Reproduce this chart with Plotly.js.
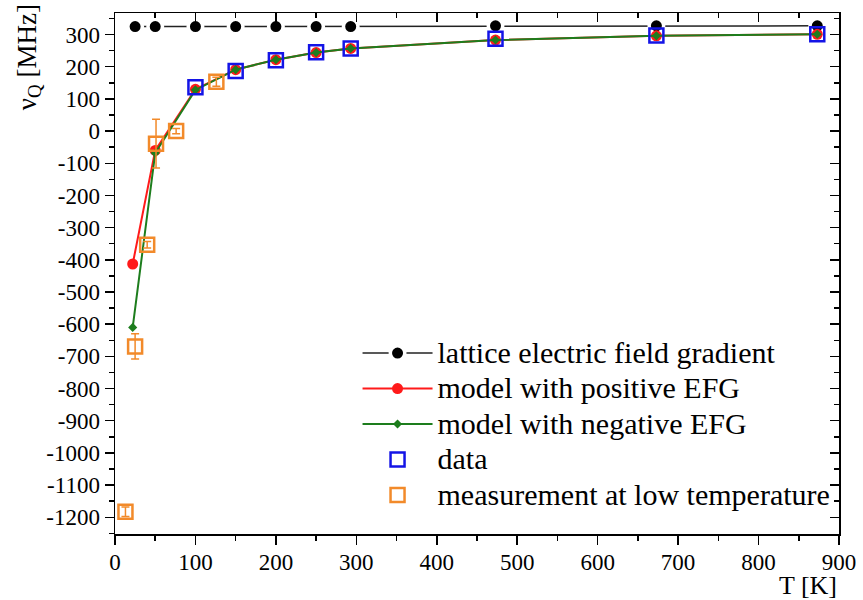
<!DOCTYPE html>
<html>
<head>
<meta charset="utf-8">
<script src="https://cdn.plot.ly/plotly-3.0.1.min.js"></script>
<style>html,body{margin:0;padding:0;background:#fff;}#chart{width:863px;height:600px;}</style>
</head>
<body>
<div id="chart"></div>
<script>
// ---- data ----
const latticeT = [25, 50, 100, 150, 200, 250, 293, 473, 673, 873];
const latticeV = [325, 325, 325, 325, 325, 325, 325, 327, 327, 327];

const modelT = [22, 50, 100, 150, 200, 250, 293, 473, 673, 873];
const positiveV = [-413, -60, 130, 191, 222, 244, 257, 283, 296, 301];
const negativeV = [-610, -68, 128, 191, 222, 244, 257, 283, 296, 301];

const dataT = [100, 150, 200, 250, 293, 473, 673, 873];
const dataV = [136, 187, 220, 245, 257, 287, 297, 301];

const lowT = [13, 25, 40, 51, 76, 126];
const lowV = [-1183, -669, -353, -39, 0, 153];
const lowErr = [15, 39, 10, 76, 8, 14];

const legendNames = [
  'lattice electric field gradient',
  'model with positive EFG',
  'model with negative EFG',
  'data',
  'measurement at low temperature'
];

const xTickVals = [0, 100, 200, 300, 400, 500, 600, 700, 800, 900];
const yTickVals = [300, 200, 100, 0, -100, -200, -300, -400, -500, -600, -700, -800, -900, -1000, -1100, -1200];

// ---- style ----
const serif = 'Liberation Serif, Times New Roman, serif';
const cBlack = '#000000', cRed = '#ff1a1a', cGreen = '#1d7d1d', cBlue = '#1414e6', cOrange = '#f28a2a';
const legName = s => '<span style="font-size:30px">' + s + '</span>';

const traces = [
  {x: latticeT, y: latticeV, name: legName(legendNames[0]), mode: 'lines+markers',
   line: {color: '#222', width: 1.5},
   marker: {symbol: 'circle', size: 14.5, color: cBlack, line: {color: '#fff', width: 3.5}}},
  {x: modelT, y: positiveV, name: legName(legendNames[1]), mode: 'lines+markers',
   line: {color: cRed, width: 2},
   marker: {symbol: 'circle', size: 11, color: cRed}},
  {x: modelT, y: negativeV, name: legName(legendNames[2]), mode: 'lines+markers',
   line: {color: cGreen, width: 2},
   marker: {symbol: 'diamond', size: 7, color: cGreen}},
  {x: dataT, y: dataV, name: legName(legendNames[3]), mode: 'markers',
   marker: {symbol: 'square-open', size: 14, color: cBlue, line: {color: cBlue, width: 2.5}}},
  {x: lowT, y: lowV, name: legName(legendNames[4]), mode: 'markers',
   error_y: {type: 'data', array: lowErr, visible: true, color: cOrange, thickness: 1.5, width: 4},
   marker: {symbol: 'square-open', size: 14, color: cOrange, line: {color: cOrange, width: 2.5}}},
  // invisible helper so the mirrored inner-tick axes are drawn
  {x: [null], y: [null], xaxis: 'x2', yaxis: 'y2', showlegend: false, hoverinfo: 'skip', mode: 'markers'}
];

const xr = [0, 900], yr = [-1252, 367];

const layout = {
  width: 863, height: 600,
  margin: {l: 115, r: 24, t: 13, b: 66},
  paper_bgcolor: '#fff', plot_bgcolor: '#fff',
  font: {family: serif, color: '#000', size: 23},
  showlegend: true,
  legend: {x: 0.335, y: 0.391, xanchor: 'left', yanchor: 'top', bgcolor: 'rgba(0,0,0,0)',
           font: {family: serif, size: 25, color: '#000'}, itemwidth: 70, tracegroupgap: 0},
  xaxis: {range: xr, tickvals: xTickVals, ticktext: xTickVals.map(String), ticks: 'outside', ticklen: 9, tickwidth: 1.5,
          tickcolor: '#000', showline: true, linecolor: '#000', linewidth: 1.5, mirror: true, ticklabelstandoff: -2,
          showgrid: false, zeroline: false, tickfont: {size: 23, family: serif},
          minor: {dtick: 50, tick0: 0, ticks: 'outside', ticklen: 5, tickwidth: 1.5, tickcolor: '#000', showgrid: false}},
  yaxis: {range: yr, tickvals: yTickVals, ticktext: yTickVals.map(String), ticks: 'outside', ticklen: 9, tickwidth: 1.5,
          tickcolor: '#000', showline: true, linecolor: '#000', linewidth: 1.5, mirror: true,
          showgrid: false, zeroline: false, tickfont: {size: 23, family: serif},
          minor: {dtick: 50, tick0: 0, ticks: 'outside', ticklen: 5, tickwidth: 1.5, tickcolor: '#000', showgrid: false}},
  xaxis2: {range: xr, overlaying: 'x', side: 'top', anchor: 'y2', tickvals: xTickVals, showticklabels: false, ticks: 'inside', ticklen: 9, tickwidth: 1.5,
           tickcolor: '#000', showgrid: false, zeroline: false, showline: false,
           minor: {dtick: 50, tick0: 0, ticks: 'inside', ticklen: 5, tickwidth: 1.5, tickcolor: '#000', showgrid: false}},
  yaxis2: {range: yr, overlaying: 'y', side: 'right', anchor: 'x2', tickvals: yTickVals, showticklabels: false, ticks: 'inside', ticklen: 9, tickwidth: 1.5,
           tickcolor: '#000', showgrid: false, zeroline: false, showline: false,
           minor: {dtick: 50, tick0: 0, ticks: 'inside', ticklen: 5, tickwidth: 1.5, tickcolor: '#000', showgrid: false}},
  annotations: [
    {text: 'T [K]', xref: 'paper', yref: 'paper', x: 1.0, y: -0.098, xanchor: 'right', yanchor: 'middle',
     showarrow: false, font: {family: serif, size: 26, color: '#000'}},
    {text: 'ν<sub>Q</sub> [MHz]', xref: 'paper', yref: 'paper', x: -0.119, y: 0.915, xanchor: 'center', yanchor: 'middle',
     textangle: -90, showarrow: false, font: {family: serif, size: 27, color: '#000'}}
  ]
};

Plotly.newPlot('chart', traces, layout, {staticPlot: true, displayModeBar: false});
</script>
</body>
</html>
